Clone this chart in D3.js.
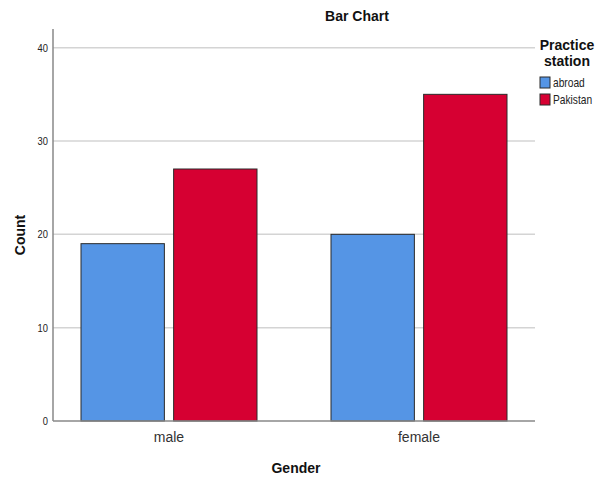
<!DOCTYPE html>
<html><head><meta charset="utf-8">
<script src="https://cdn.jsdelivr.net/npm/d3@7"></script>
<style>body{margin:0;background:#fff;} svg{display:block;font-family:"Liberation Sans",Arial,sans-serif;}</style>
</head><body>
<svg id="c" width="596" height="477"></svg>
<script>
const categories = ["male", "female"];
const seriesNames = ["abroad", "Pakistan"];
const abroad = [19, 20];
const pakistan = [27, 35];
const yTicks = [0, 10, 20, 30, 40];
const colors = ["#5595e5", "#d60032"];

const svg = d3.select("#c");
const pLeft = 53, pRight = 535, pTop = 29, pBottom = 421;
const y = d3.scaleLinear().domain([0, 42]).range([pBottom, pTop]);
const x = d3.scalePoint().domain(categories).range([pLeft, pRight]).padding(0.464);
const sub = d3.scaleBand().domain(seriesNames).range([-88, 88]).paddingInner(0.1);

// gridlines
svg.append("g").selectAll("line").data(yTicks.filter(d => d > 0)).join("line")
  .attr("x1", pLeft).attr("x2", pRight)
  .attr("y1", d => y(d)).attr("y2", d => y(d))
  .attr("stroke", "#d4d4d4").attr("stroke-width", 1.5);

// bars
const data = [abroad, pakistan];
seriesNames.forEach((s, si) => {
  svg.append("g").selectAll("rect").data(categories).join("rect")
    .attr("x", c => x(c) + sub(s))
    .attr("width", sub.bandwidth())
    .attr("y", (c, i) => y(data[si][i]))
    .attr("height", (c, i) => pBottom - y(data[si][i]))
    .attr("fill", colors[si])
    .attr("stroke", "#2a2a2a").attr("stroke-width", 1);
});

// axes lines
svg.append("line").attr("x1", pLeft).attr("x2", pLeft).attr("y1", pTop).attr("y2", pBottom)
  .attr("stroke", "#888").attr("stroke-width", 1.5);
svg.append("line").attr("x1", pLeft).attr("x2", pRight).attr("y1", pBottom).attr("y2", pBottom)
  .attr("stroke", "#888").attr("stroke-width", 1.5);

// y tick labels
svg.append("g").selectAll("text").data(yTicks).join("text")
  .attr("transform", d => `translate(${pLeft - 5},${y(d)}) scale(0.85,1)`)
  .attr("dy", "0.35em")
  .attr("text-anchor", "end").attr("font-size", 11).attr("fill", "#222")
  .text(d => d);

// x tick labels
svg.append("g").selectAll("text").data(categories).join("text")
  .attr("x", d => x(d)).attr("y", 442)
  .attr("text-anchor", "middle").attr("font-size", 14).attr("fill", "#333")
  .text(d => d);

// titles
svg.append("text").attr("x", 357).attr("y", 21).attr("text-anchor", "middle")
  .attr("font-size", 14).attr("font-weight", "bold").attr("fill", "#111").text("Bar Chart");
svg.append("text").attr("x", 296).attr("y", 473).attr("text-anchor", "middle")
  .attr("font-size", 14).attr("font-weight", "bold").attr("fill", "#111").text("Gender");
svg.append("text").attr("transform", "translate(25,235) rotate(-90)").attr("text-anchor", "middle")
  .attr("font-size", 14).attr("font-weight", "bold").attr("fill", "#111").text("Count");

// legend
svg.append("text").attr("x", 567).attr("y", 50).attr("text-anchor", "middle")
  .attr("font-size", 14).attr("font-weight", "bold").attr("fill", "#111").text("Practice");
svg.append("text").attr("x", 567).attr("y", 66).attr("text-anchor", "middle")
  .attr("font-size", 14).attr("font-weight", "bold").attr("fill", "#111").text("station");
const lg = svg.append("g").selectAll("g").data(seriesNames).join("g")
  .attr("transform", (d, i) => `translate(540,${77 + i * 17})`);
lg.append("rect").attr("width", 10).attr("height", 11)
  .attr("fill", (d, i) => colors[i]).attr("stroke", "#2a2a2a").attr("stroke-width", 1);
lg.append("text").attr("transform", "translate(13,6) scale(0.85,1)").attr("dy", "0.35em")
  .attr("font-size", 12).attr("fill", "#222").text(d => d);
</script>
</body></html>
